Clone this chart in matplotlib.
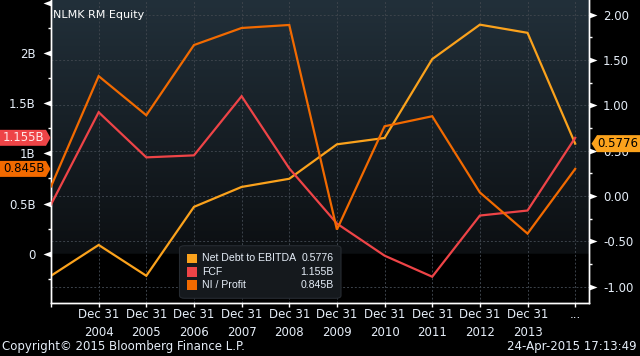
import matplotlib
matplotlib.use("Agg")
import matplotlib.pyplot as plt
import matplotlib.transforms as mtrans
from matplotlib.patches import Polygon, FancyBboxPatch, Rectangle
from matplotlib.path import Path
from matplotlib.ticker import MultipleLocator, FuncFormatter, FixedLocator
import numpy as np

# ---- data ----
periods = ["", "Dec 31\n2004", "Dec 31\n2005", "Dec 31\n2006", "Dec 31\n2007",
           "Dec 31\n2008", "Dec 31\n2009", "Dec 31\n2010", "Dec 31\n2011",
           "Dec 31\n2012", "Dec 31\n2013", "..."]
net_debt_ebitda = [-0.88, -0.54, -0.88, -0.12, 0.10, 0.19, 0.57, 0.64, 1.51, 1.89, 1.80, 0.5776]
fcf_bn = [0.49, 1.41, 0.96, 0.98, 1.57, 0.85, 0.30, -0.02, -0.23, 0.38, 0.43, 1.155]
ni_profit_bn = [0.67, 1.77, 1.38, 2.08, 2.25, 2.28, 0.24, 1.27, 1.37, 0.61, 0.20, 0.845]

legend_names = ["Net Debt to EBITDA", "FCF", "NI / Profit"]
legend_values = ["0.5776", "1.155B", "0.845B"]

YEL = "#fba21c"
RED = "#ee4447"
ORG = "#f26a00"
TXT = "#e6eef8"
GRID = "#3c434b"

W, H = 640, 356
LIM_L = (-0.489, 2.529)
LIM_R = (-1.177, 2.162)

fig = plt.figure(figsize=(W / 100, H / 100), dpi=100, facecolor="black")
axR = fig.add_axes([51 / W, 1 - 302.7 / H, 538 / W, 302.7 / H])
axL = axR.twinx()
axR.yaxis.tick_right()
axR.yaxis.set_label_position("right")
axL.yaxis.tick_left()
axL.yaxis.set_label_position("left")

x = np.arange(len(periods))
axR.set_xlim(0, 11.29)
axR.set_ylim(*LIM_R)
axL.set_ylim(*LIM_L)

# background: dark slate gradient down to the left-axis zero, black below
f0 = (0 - LIM_L[0]) / (LIM_L[1] - LIM_L[0])
t = np.linspace(0, 1, 400)
top = np.array([0x22, 0x30, 0x3a]) / 255
low = np.array([0x0c, 0x0f, 0x12]) / 255
grad = np.zeros((400, 1, 3))
for i, tv in enumerate(t):
    if tv >= f0:
        k = (tv - f0) / (1 - f0)
        grad[i, 0] = low + (top - low) * k
grad = grad[::-1]
axR.imshow(grad, extent=[0, 1, 0, 1], transform=axR.transAxes, aspect="auto",
           zorder=0, interpolation="bilinear")
axR.set_facecolor("black")
axR.set_xlim(0, 11.29)
axR.set_ylim(*LIM_R)

# grid
for v in np.arange(-1.0, 2.01, 0.5):
    axR.axhline(v, color=GRID, lw=0.7, ls=(0, (2, 2)), zorder=1)
for xi in x[1:]:
    axR.axvline(xi, color=GRID, lw=0.7, ls=(0, (2, 2)), zorder=1)

# series
axR.plot(x, net_debt_ebitda, color=YEL, lw=1.6, zorder=3, solid_joinstyle="miter")
axL.plot(x, fcf_bn, color=RED, lw=1.6, zorder=3, solid_joinstyle="miter")
axL.plot(x, ni_profit_bn, color=ORG, lw=1.6, zorder=3, solid_joinstyle="miter")
axL.set_xlim(0, 11.29)

# spines
for ax in (axR, axL):
    ax.spines["top"].set_visible(False)
    for s in ("left", "right", "bottom"):
        ax.spines[s].set_color("white")
        ax.spines[s].set_linewidth(1.0)

# x axis
axR.xaxis.set_major_locator(FixedLocator(x))
axR.set_xticklabels(periods, fontsize=8.5, color=TXT, linespacing=1.45)
axR.tick_params(axis="x", colors="white", length=3, width=1, pad=1, labelcolor=TXT)

# y axes ticks
axL.yaxis.set_major_locator(MultipleLocator(0.5))
axL.yaxis.set_minor_locator(MultipleLocator(0.25))
axL.yaxis.set_major_formatter(FuncFormatter(
    lambda v, p: "0" if abs(v) < 1e-9 else ("" if v > 2.4 else f"{v:g}B")))
axL.tick_params(axis="y", which="major", length=0, pad=11, labelsize=8.5, labelcolor=TXT)
axL.tick_params(axis="y", which="minor", length=2.5, width=1, color="white")

axR.yaxis.set_major_locator(MultipleLocator(0.5))
axR.yaxis.set_minor_locator(MultipleLocator(0.25))
axR.yaxis.set_major_formatter(FuncFormatter(lambda v, p: f"{v:.2f}"))
axR.tick_params(axis="y", which="major", length=0, pad=10, labelsize=8.5, labelcolor=TXT)
axR.tick_params(axis="y", which="minor", length=2.5, width=1, color="white")

# arrow-shaped major tick marks
tri_left = Path([(0, -0.6), (0, 0.6), (-1.6, 0), (0, -0.6)],
                [Path.MOVETO, Path.LINETO, Path.LINETO, Path.CLOSEPOLY])
tri_right = Path([(0, -0.6), (0, 0.6), (1.6, 0), (0, -0.6)],
                 [Path.MOVETO, Path.LINETO, Path.LINETO, Path.CLOSEPOLY])
trL = mtrans.blended_transform_factory(axL.transAxes, axL.transData)
for v in np.arange(0, 2.51, 0.5):
    axL.plot([0], [v], marker=tri_left, ms=11.5, color="white", mec="none",
             transform=trL, clip_on=False, zorder=6)
trR = mtrans.blended_transform_factory(axR.transAxes, axR.transData)
for v in np.arange(-1.0, 2.01, 0.5):
    axR.plot([1], [v], marker=tri_right, ms=11.5, color="white", mec="none",
             transform=trR, clip_on=False, zorder=6)

# title
fig.text(53 / W, 1 - 15 / H, "NLMK RM Equity", color="white", fontsize=8,
         va="center", ha="left")

# value tags on the axes
def disp_y(ax, v):
    return ax.transData.transform((0, v))[1] / H

for v, lab, fc, tc in [(fcf_bn[-1], "1.155B", RED, "#ffe8e8"),
                       (ni_profit_bn[-1], "0.845B", ORG, "black")]:
    yc = disp_y(axL, v)
    hh = 8 / H
    poly = Polygon([(0, yc - hh), (46 / W, yc - hh), (50.5 / W, yc), (46 / W, yc + hh),
                    (0, yc + hh)], closed=True, fc=fc, ec="none",
                   transform=fig.transFigure, zorder=10)
    fig.patches.append(poly)
    fig.text(23.5 / W, yc, lab, color=tc, fontsize=8.5, ha="center", va="center",
             zorder=11)

yc = disp_y(axR, net_debt_ebitda[-1])
hh = 8.5 / H
poly = Polygon([(591.5 / W, yc), (597 / W, yc - hh), (640 / W, yc - hh),
                (640 / W, yc + hh), (597 / W, yc + hh)], closed=True, fc=YEL,
               ec="none", transform=fig.transFigure, zorder=10)
fig.patches.append(poly)
fig.text(618 / W, yc, "0.5776", color="black", fontsize=8.5, ha="center",
         va="center", zorder=11)

# legend box
box = FancyBboxPatch((179.5 / W, 1 - 298.3 / H), (341 - 179.5) / W, (298.3 - 245.7) / H,
                     boxstyle="round,pad=0,rounding_size=0.008", fc="#15191d",
                     ec="#262b31", lw=0.8, transform=fig.transFigure, zorder=8)
fig.patches.append(box)
for i, (name, val, col) in enumerate(zip(legend_names, legend_values, [YEL, RED, ORG])):
    yrow = 258.3 + i * 13.4
    sq = Rectangle((187 / W, 1 - (yrow + 4.8) / H), 9.5 / W, 9.5 / H, fc=col,
                   ec="none", transform=fig.transFigure, zorder=9)
    fig.patches.append(sq)
    fig.text(202 / W, 1 - yrow / H, name, color=TXT, fontsize=7.6,
             family="Liberation Sans", va="center", ha="left", zorder=9)
    fig.text(334 / W, 1 - yrow / H, val, color=TXT, fontsize=7.6,
             family="Liberation Sans", va="center", ha="right", zorder=9)

# footer
fig.text(2 / W, 1 - 346.7 / H, "Copyright\u00a9 2015 Bloomberg Finance L.P.",
         color=TXT, fontsize=8.5, ha="left", va="center")
fig.text(637 / W, 1 - 346.7 / H, "24-Apr-2015 17:13:49", color=TXT, fontsize=8.5,
         ha="right", va="center")

fig.savefig("out.png", dpi=100, facecolor="black")
